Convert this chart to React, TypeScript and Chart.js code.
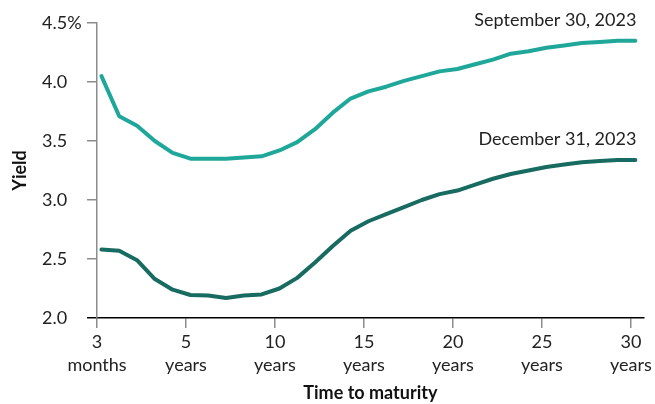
import { useEffect, useRef } from "react";
import { Chart, registerables } from "chart.js";

Chart.register(...registerables);

// Maturity positions (years from the 3-month point)
const maturities = [
  0.25, 1.25, 2.25, 3.25, 4.25, 5.25, 6.25, 7.25, 8.25, 9.25, 10.25,
  11.25, 12.25, 13.25, 14.25, 15.25, 16.25, 17.25, 18.25, 19.25, 20.25,
  21.25, 22.25, 23.25, 24.25, 25.25, 26.25, 27.25, 28.25, 29.25, 30.25,
];

const sept2023 = [
  4.05, 3.71, 3.63, 3.5, 3.4, 3.35, 3.35, 3.35, 3.36, 3.37, 3.42,
  3.49, 3.6, 3.74, 3.86, 3.92, 3.96, 4.01, 4.05, 4.09, 4.11,
  4.15, 4.19, 4.24, 4.26, 4.29, 4.31, 4.33, 4.34, 4.35, 4.35,
];

const dec2023 = [
  2.58, 2.57, 2.49, 2.33, 2.24, 2.195, 2.19, 2.17, 2.19, 2.2, 2.25,
  2.34, 2.47, 2.61, 2.74, 2.82, 2.88, 2.94, 3.0, 3.05, 3.08,
  3.13, 3.18, 3.22, 3.25, 3.28, 3.3, 3.32, 3.33, 3.34, 3.34,
];

const seriesNames = ["September 30, 2023", "December 31, 2023"];
const seriesColors = ["#1fa89a", "#176b60"];

const xTickValues = [0, 5, 10, 15, 20, 25, 30];
const xTickLabels = [
  ["3", "months"],
  ["5", "years"],
  ["10", "years"],
  ["15", "years"],
  ["20", "years"],
  ["25", "years"],
  ["30", "years"],
];

const yTickValues = [2, 2.5, 3, 3.5, 4, 4.5];
const yTickLabels = ["2.0", "2.5", "3.0", "3.5", "4.0", "4.5%"];

const xTitle = "Time to maturity";
const yTitle = "Yield";

const FONT = "Lato";
const TEXT = "#222222";
const AXIS_GRAY = "#8c8c8c";

const endLabels = {
  id: "endLabels",
  afterDatasetsDraw(chart: any) {
    const ctx = chart.ctx;
    chart.data.datasets.forEach((ds: any, i: number) => {
      const meta = chart.getDatasetMeta(i);
      const last = meta.data[meta.data.length - 1];
      if (!last) return;
      ctx.save();
      ctx.font = `18px ${FONT}`;
      ctx.fillStyle = TEXT;
      ctx.textAlign = "right";
      ctx.textBaseline = "alphabetic";
      ctx.fillText(ds.label, last.x + 1, last.y - 15);
      ctx.restore();
    });
  },
};

const yTitlePlugin = {
  id: "yTitlePlugin",
  afterDraw(chart: any) {
    const ctx = chart.ctx;
    const area = chart.chartArea;
    ctx.save();
    ctx.translate(20, (area.top + area.bottom) / 2);
    ctx.rotate(-Math.PI / 2);
    ctx.font = `bold 18px ${FONT}`;
    ctx.fillStyle = "#111111";
    ctx.textAlign = "center";
    ctx.textBaseline = "middle";
    ctx.fillText(yTitle, 0, 0);
    ctx.restore();
  },
};

export default function App() {
  const canvasRef = useRef<HTMLCanvasElement | null>(null);

  useEffect(() => {
    if (!canvasRef.current) return;
    const chart = new Chart(canvasRef.current, {
      type: "line",
      data: {
        datasets: [
          {
            label: seriesNames[0],
            data: maturities.map((x, i) => ({ x, y: sept2023[i] })),
            borderColor: seriesColors[0],
            backgroundColor: seriesColors[0],
            borderWidth: 4,
            pointRadius: 0,
            tension: 0,
            borderJoinStyle: "round",
            borderCapStyle: "round",
          },
          {
            label: seriesNames[1],
            data: maturities.map((x, i) => ({ x, y: dec2023[i] })),
            borderColor: seriesColors[1],
            backgroundColor: seriesColors[1],
            borderWidth: 4,
            pointRadius: 0,
            tension: 0,
            borderJoinStyle: "round",
            borderCapStyle: "round",
          },
        ],
      },
      options: {
        animation: false,
        responsive: false,
        layout: { padding: { top: 23, right: 9, left: 42, bottom: 0 } },
        plugins: {
          legend: { display: false },
          tooltip: { enabled: false },
        },
        scales: {
          x: {
            type: "linear",
            min: 0,
            max: 30.72,
            afterBuildTicks: (scale: any) => {
              scale.ticks = xTickValues.map((v) => ({ value: v }));
            },
            afterFit: (scale: any) => {
              scale.height = 86;
            },
            ticks: {
              autoSkip: false,
              maxRotation: 0,
              minRotation: 0,
              padding: 3,
              color: TEXT,
              font: { family: FONT, size: 18, lineHeight: "23px" },
              callback: (v: any) => {
                const idx = xTickValues.indexOf(Number(v));
                return idx >= 0 ? xTickLabels[idx] : "";
              },
            },
            grid: {
              drawOnChartArea: false,
              drawTicks: true,
              tickLength: 10,
              color: AXIS_GRAY,
              lineWidth: 1.5,
            },
            border: { display: true, color: "#000000", width: 1.5 },
            title: {
              display: true,
              text: xTitle,
              color: "#111111",
              font: { family: FONT, size: 18, weight: "bold" },
              padding: { top: 0, bottom: 0 },
            },
          },
          y: {
            type: "linear",
            min: 2,
            max: 4.5,
            afterBuildTicks: (scale: any) => {
              scale.ticks = yTickValues.map((v) => ({ value: v }));
            },
            afterFit: (scale: any) => {
              scale.width = 55;
            },
            ticks: {
              crossAlign: "far",
              padding: 5,
              color: TEXT,
              font: { family: FONT, size: 18 },
              callback: (v: any) => {
                const idx = yTickValues.indexOf(Number(v));
                return idx >= 0 ? yTickLabels[idx] : "";
              },
            },
            grid: {
              drawOnChartArea: false,
              drawTicks: true,
              tickLength: 10,
              lineWidth: 1.5,
              color: (c: any) => (c.tick && c.tick.value === 2 ? "#000000" : AXIS_GRAY),
            },
            border: { display: true, color: AXIS_GRAY, width: 1.5 },
            title: { display: false },
          },
        },
      },
      plugins: [endLabels, yTitlePlugin],
    } as any);
    return () => chart.destroy();
  }, []);

  return (
    <div style={{ position: "absolute", left: 0, top: 0, width: 655, height: 404 }}>
      <canvas ref={canvasRef} width={655} height={404} style={{ display: "block" }} />
    </div>
  );
}
